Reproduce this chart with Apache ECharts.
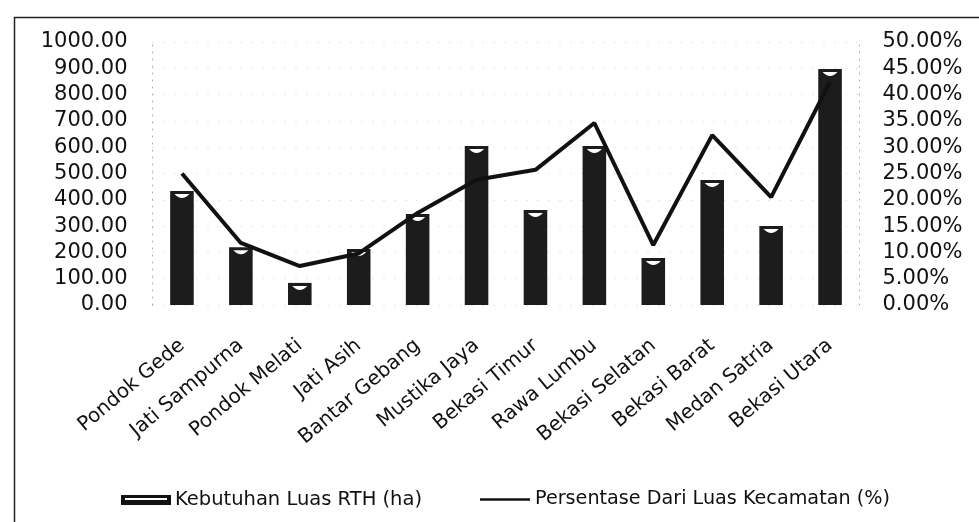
<!DOCTYPE html>
<html>
<head>
<meta charset="utf-8">
<script src="https://cdn.jsdelivr.net/npm/echarts@6/dist/echarts.min.js"></script>
<style>html,body{margin:0;padding:0;background:#fff}#c{width:979px;height:522px}</style>
</head>
<body>
<div id="c"></div>
<script>
const categories = ['Pondok Gede','Jati Sampurna','Pondok Melati','Jati Asih','Bantar Gebang','Mustika Jaya','Bekasi Timur','Rawa Lumbu','Bekasi Selatan','Bekasi Barat','Medan Satria','Bekasi Utara'];
const kebutuhanRTH = [433, 220, 84, 213, 346, 605, 361, 605, 179, 475, 300, 897];
const persentase = [25.0, 11.8, 7.4, 9.8, 17.5, 23.8, 25.7, 34.6, 11.4, 32.3, 20.5, 42.4];
const leftTicks = {min: 0, max: 1000, interval: 100};
const rightTicks = {min: 0, max: 50, interval: 5};
const seriesNames = ['Kebutuhan Luas RTH (ha)', 'Persentase Dari Luas Kecamatan (%)'];

const FONT = 'DejaVu Sans';
const chart = echarts.init(document.getElementById('c'));
chart.setOption({
  animation: false,
  backgroundColor: '#fff',
  textStyle: {fontFamily: FONT, color: '#111'},
  graphic: [{
    type: 'rect', left: 12, top: 15,
    shape: {width: 1000, height: 600},
    style: {fill: 'none', stroke: '#222', lineWidth: 1.5},
    silent: true, z: -1
  }],
  grid: {left: 152.5, right: 119.5, top: 42, bottom: 217},
  legend: [{
    top: 485, left: 116, itemWidth: 52, itemHeight: 10, itemGap: 6,
    textStyle: {fontFamily: FONT, fontSize: 19.5, color: '#111', padding: [0, 0, 0, -2]},
    data: [{name: seriesNames[0], icon: 'path://M0,0 L50,0 L50,10 L0,10 Z M4,3 L4,5 L46,5 L46,3 Z', itemStyle: {color: '#111'}}]
  }, {
    top: 485, left: 475, itemWidth: 50, itemHeight: 2.5,
    textStyle: {fontFamily: FONT, fontSize: 19.2, color: '#111'},
    data: [{name: seriesNames[1], icon: 'rect', itemStyle: {color: '#111'}}]
  }],
  xAxis: {
    type: 'category', data: categories,
    axisLine: {show: false}, axisTick: {show: false},
    axisLabel: {rotate: 40, interval: 0, margin: 38, fontFamily: FONT, fontSize: 20, color: '#111'}
  },
  yAxis: [{
    type: 'value', min: leftTicks.min, max: leftTicks.max, interval: leftTicks.interval,
    axisLabel: {formatter: v => v.toFixed(2), margin: 25, fontFamily: FONT, fontSize: 21, color: '#111'},
    axisLine: {show: true, lineStyle: {color: '#aaa', type: [1, 6]}},
    splitLine: {show: true, lineStyle: {color: '#ccc', type: [1, 10]}}
  }, {
    type: 'value', min: rightTicks.min, max: rightTicks.max, interval: rightTicks.interval,
    axisLabel: {formatter: v => v.toFixed(2) + '%', margin: 23, fontFamily: FONT, fontSize: 21, color: '#111'},
    axisLine: {show: true, lineStyle: {color: '#aaa', type: [1, 6]}},
    splitLine: {show: false}
  }],
  series: [{
    name: seriesNames[0], type: 'bar', data: kebutuhanRTH, yAxisIndex: 0,
    barWidth: '40%', itemStyle: {color: '#1c1c1c'}, z: 2
  }, {
    name: 'cap', type: 'pictorialBar', data: kebutuhanRTH, yAxisIndex: 0,
    symbol: 'path://M0,0 L20,0 Q10,6 0,0 Z', symbolSize: [15, 4], symbolPosition: 'end', symbolOffset: [0, 3],
    itemStyle: {color: '#fff'}, barGap: '-100%', z: 3, silent: true
  }, {
    name: seriesNames[1], type: 'line', data: persentase, yAxisIndex: 1,
    showSymbol: false, symbol: 'none',
    lineStyle: {color: '#111', width: 4}, itemStyle: {color: '#111'}, z: 4
  }]
});
</script>
</body>
</html>
